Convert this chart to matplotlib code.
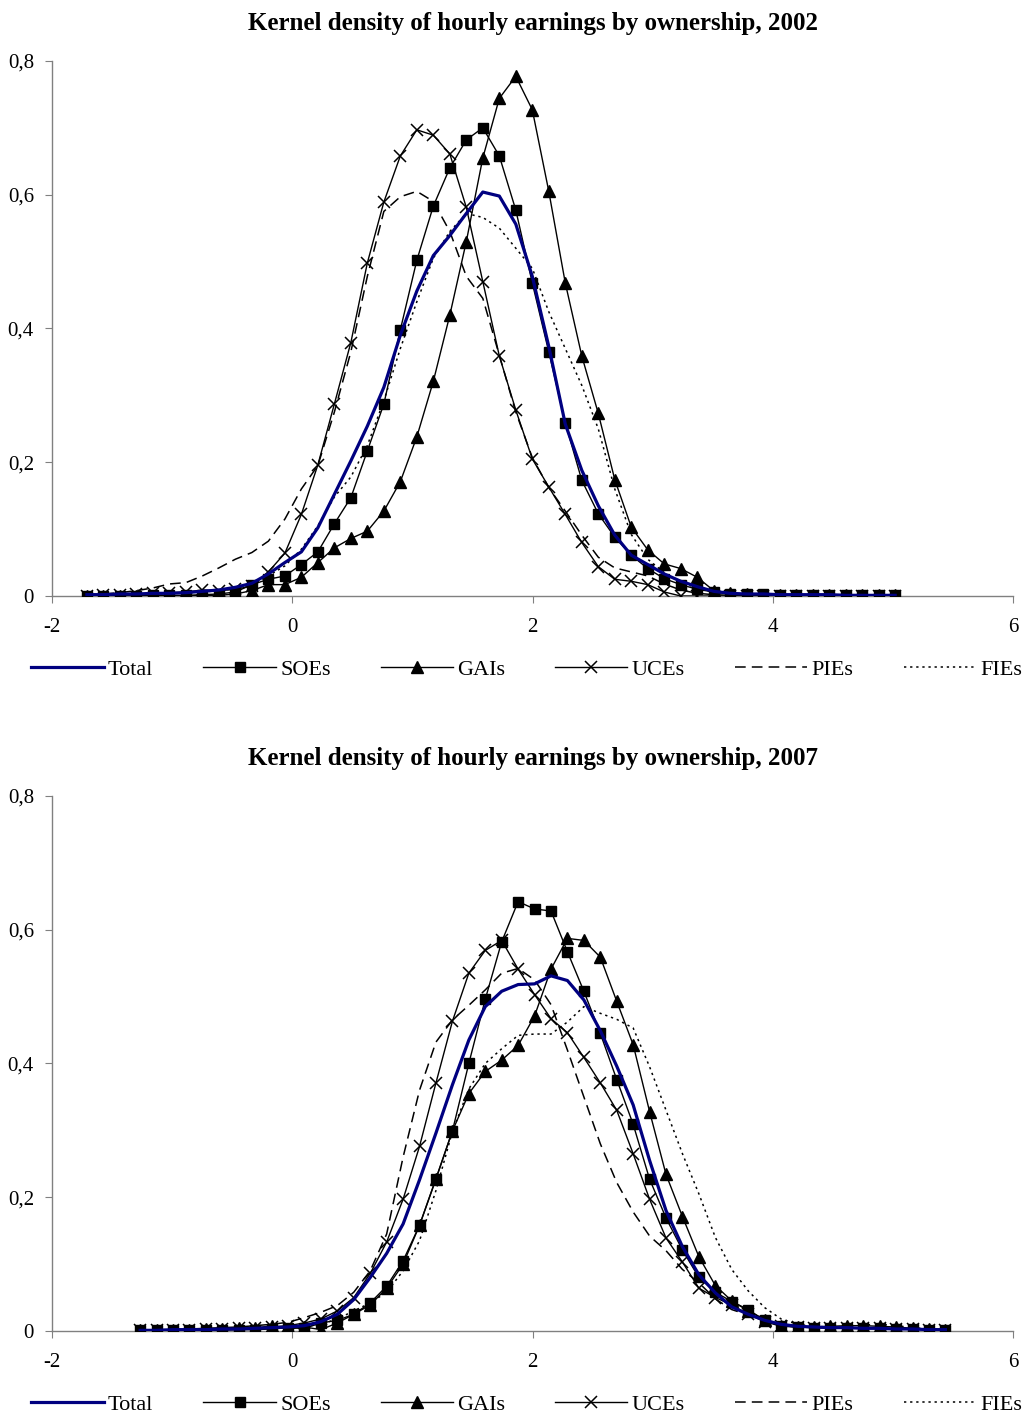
import numpy as np
import matplotlib
matplotlib.use('Agg')
import matplotlib.pyplot as plt
from matplotlib.ticker import FuncFormatter

plt.rcParams['font.family'] = ['Liberation Serif', 'DejaVu Serif']

# Evaluation grids (50 points each)
x_2002_start, x_2002_end = -1.709, 5.019
x_2007_start, x_2007_end = -1.266, 5.437

series_names = ['Total', 'SOEs', 'GAIs', 'UCEs', 'PIEs', 'FIEs']

# ---- 2002 ----
total_2002 = [0.002, 0.002, 0.003, 0.003, 0.004, 0.004, 0.005, 0.007, 0.009, 0.013,
              0.019, 0.033, 0.050, 0.066, 0.102, 0.152, 0.202, 0.254, 0.312, 0.390,
              0.456, 0.509, 0.539, 0.572, 0.604, 0.598, 0.556, 0.478, 0.373, 0.257,
              0.188, 0.135, 0.091, 0.061, 0.047, 0.033, 0.022, 0.014, 0.007, 0.004,
              0.003, 0.003, 0.002, 0.002, 0.002, 0.002, 0.001, 0.001, 0.001, 0.001]
soe_2002 = [0.000, 0.000, 0.000, 0.000, 0.001, 0.001, 0.001, 0.002, 0.003, 0.006,
            0.017, 0.025, 0.030, 0.047, 0.066, 0.108, 0.147, 0.217, 0.287, 0.398,
            0.502, 0.583, 0.640, 0.682, 0.700, 0.658, 0.577, 0.468, 0.365, 0.259,
            0.173, 0.123, 0.088, 0.061, 0.041, 0.026, 0.017, 0.010, 0.006, 0.003,
            0.003, 0.003, 0.002, 0.002, 0.002, 0.002, 0.002, 0.002, 0.001, 0.001]
gai_2002 = [0.000, 0.000, 0.000, 0.000, 0.000, 0.000, 0.000, 0.001, 0.001, 0.003,
            0.008, 0.017, 0.017, 0.028, 0.050, 0.072, 0.086, 0.097, 0.127, 0.171,
            0.238, 0.321, 0.420, 0.530, 0.655, 0.744, 0.777, 0.727, 0.605, 0.468,
            0.359, 0.273, 0.174, 0.103, 0.069, 0.048, 0.041, 0.028, 0.008, 0.004,
            0.003, 0.002, 0.002, 0.002, 0.001, 0.001, 0.001, 0.001, 0.001, 0.001]
uce_2002 = [0.000, 0.001, 0.002, 0.003, 0.004, 0.005, 0.006, 0.009, 0.008, 0.010,
            0.015, 0.036, 0.064, 0.122, 0.196, 0.287, 0.379, 0.498, 0.589, 0.658,
            0.697, 0.689, 0.661, 0.581, 0.470, 0.359, 0.278, 0.205, 0.163, 0.122,
            0.080, 0.044, 0.025, 0.022, 0.017, 0.006, 0.000, 0.000, 0.000, 0.000,
            0.000, 0.000, 0.000, 0.000, 0.000, 0.000, 0.000, 0.000, 0.000, 0.000]
pie_2002 = [0.002, 0.003, 0.005, 0.008, 0.012, 0.018, 0.020, 0.030, 0.042, 0.055,
            0.065, 0.082, 0.115, 0.160, 0.195, 0.275, 0.365, 0.478, 0.575, 0.597,
            0.605, 0.590, 0.545, 0.478, 0.445, 0.360, 0.275, 0.207, 0.162, 0.127,
            0.091, 0.058, 0.042, 0.036, 0.030, 0.018, 0.009, 0.004, 0.002, 0.001,
            0.001, 0.001, 0.000, 0.000, 0.000, 0.000, 0.000, 0.000, 0.000, 0.000]
fie_2002 = [0.002, 0.002, 0.002, 0.003, 0.003, 0.004, 0.005, 0.006, 0.008, 0.011,
            0.017, 0.030, 0.045, 0.070, 0.105, 0.148, 0.178, 0.225, 0.292, 0.370,
            0.440, 0.505, 0.545, 0.572, 0.566, 0.550, 0.520, 0.490, 0.425, 0.370,
            0.315, 0.250, 0.160, 0.092, 0.055, 0.035, 0.020, 0.012, 0.006, 0.003,
            0.002, 0.002, 0.001, 0.001, 0.001, 0.001, 0.001, 0.001, 0.001, 0.001]

# ---- 2007 ----
total_2007 = [0.001, 0.001, 0.002, 0.002, 0.002, 0.003, 0.003, 0.004, 0.005, 0.006,
              0.008, 0.014, 0.025, 0.047, 0.080, 0.116, 0.160, 0.226, 0.296, 0.368,
              0.435, 0.485, 0.508, 0.518, 0.519, 0.531, 0.524, 0.495, 0.449, 0.396,
              0.338, 0.255, 0.180, 0.126, 0.084, 0.057, 0.036, 0.025, 0.016, 0.010,
              0.007, 0.006, 0.005, 0.005, 0.004, 0.004, 0.003, 0.003, 0.002, 0.002]
soe_2007 = [0.001, 0.001, 0.001, 0.001, 0.001, 0.001, 0.002, 0.002, 0.003, 0.005,
            0.004, 0.012, 0.016, 0.025, 0.042, 0.067, 0.105, 0.158, 0.228, 0.299,
            0.400, 0.496, 0.582, 0.642, 0.631, 0.628, 0.567, 0.508, 0.445, 0.376,
            0.309, 0.227, 0.169, 0.121, 0.080, 0.058, 0.044, 0.032, 0.016, 0.008,
            0.006, 0.005, 0.005, 0.004, 0.004, 0.004, 0.003, 0.003, 0.002, 0.002]
gai_2007 = [0.001, 0.001, 0.002, 0.002, 0.003, 0.003, 0.004, 0.004, 0.008, 0.003,
            0.006, 0.002, 0.012, 0.025, 0.039, 0.064, 0.100, 0.158, 0.227, 0.299,
            0.355, 0.388, 0.405, 0.427, 0.471, 0.541, 0.587, 0.584, 0.559, 0.493,
            0.428, 0.328, 0.234, 0.171, 0.111, 0.068, 0.045, 0.030, 0.017, 0.008,
            0.006, 0.006, 0.007, 0.008, 0.008, 0.007, 0.006, 0.004, 0.003, 0.002]
uce_2007 = [0.001, 0.001, 0.002, 0.002, 0.003, 0.003, 0.004, 0.005, 0.006, 0.008,
            0.012, 0.018, 0.030, 0.050, 0.086, 0.133, 0.197, 0.276, 0.371, 0.463,
            0.535, 0.569, 0.584, 0.541, 0.503, 0.467, 0.446, 0.409, 0.371, 0.330,
            0.265, 0.197, 0.139, 0.103, 0.064, 0.050, 0.039, 0.025, 0.014, 0.007,
            0.006, 0.005, 0.005, 0.005, 0.004, 0.004, 0.003, 0.003, 0.002, 0.002]
pie_2007 = [0.001, 0.002, 0.002, 0.003, 0.004, 0.005, 0.006, 0.008, 0.010, 0.013,
            0.020, 0.028, 0.038, 0.058, 0.090, 0.145, 0.260, 0.360, 0.432, 0.465,
            0.487, 0.510, 0.535, 0.542, 0.525, 0.488, 0.420, 0.350, 0.280, 0.222,
            0.178, 0.142, 0.120, 0.092, 0.072, 0.048, 0.032, 0.024, 0.016, 0.011,
            0.008, 0.006, 0.006, 0.007, 0.009, 0.010, 0.008, 0.005, 0.003, 0.002]
fie_2007 = [0.000, 0.000, 0.001, 0.001, 0.001, 0.002, 0.003, 0.004, 0.005, 0.006,
            0.007, 0.010, 0.018, 0.030, 0.042, 0.058, 0.090, 0.135, 0.210, 0.298,
            0.362, 0.400, 0.422, 0.442, 0.444, 0.444, 0.462, 0.485, 0.475, 0.466,
            0.453, 0.395, 0.330, 0.265, 0.205, 0.140, 0.092, 0.060, 0.035, 0.018,
            0.010, 0.007, 0.006, 0.005, 0.004, 0.004, 0.003, 0.003, 0.002, 0.002]

x_ticks = [-2, 0, 2, 4, 6]
y_ticks = [0, 0.2, 0.4, 0.6, 0.8]


def comma_fmt(v, pos):
    if abs(v) < 1e-9:
        return '0'
    return ('%.1f' % v).replace('.', ',')


def draw_panel(ax, x, total, soe, gai, uce, pie, fie, title):
    ax.plot(x, pie, color='black', lw=1.1, linestyle=(0, (7, 4)), label='PIEs', zorder=2)
    ax.plot(x, fie, color='black', lw=1.1, linestyle=(0, (1.5, 2.5)), label='FIEs', zorder=2)
    ax.plot(x, soe, color='black', lw=1.0, marker='s', ms=7.3, label='SOEs', zorder=3)
    ax.plot(x, gai, color='black', lw=1.0, marker='^', ms=8.3, label='GAIs', zorder=3)
    ax.plot(x, uce, color='black', lw=1.0, marker='x', ms=8.8, mew=1.1, label='UCEs', zorder=3)
    ax.plot(x, total, color='#000080', lw=2.3, label='Total', zorder=4)

    ax.set_xlim(-2, 6)
    ax.set_ylim(0, 0.8)
    ax.set_xticks(x_ticks)
    ax.set_yticks(y_ticks)
    ax.yaxis.set_major_formatter(FuncFormatter(comma_fmt))
    ax.xaxis.set_major_formatter(FuncFormatter(lambda v, p: '%d' % v))
    for s in ['top', 'right']:
        ax.spines[s].set_visible(False)
    for s in ['left', 'bottom']:
        ax.spines[s].set_color('#808080')
        ax.spines[s].set_linewidth(1.0)
    ax.tick_params(axis='both', direction='out', length=5, color='#808080',
                   labelsize=15, colors='black')
    ax.tick_params(axis='x', pad=11)
    ax.tick_params(axis='y', pad=8)
    ax.set_title(title, fontsize=18, fontweight='bold', pad=22)

    # legend in the same order as the original
    h, l = ax.get_legend_handles_labels()
    order = [l.index(n) for n in series_names]
    ax.legend([h[k] for k in order], series_names, loc='upper center',
              bbox_to_anchor=(0.494, -0.119), ncol=6, frameon=False,
              fontsize=16, handlelength=3.25, handletextpad=0.2,
              columnspacing=2.25, borderaxespad=0, borderpad=0)


fig = plt.figure(figsize=(10.29, 14.14), dpi=100)
ax1 = fig.add_axes([0.0505, 0.5785, 0.934, 0.3784])
ax2 = fig.add_axes([0.0505, 0.0587, 0.934, 0.3784])

x02 = np.linspace(x_2002_start, x_2002_end, len(total_2002))
x07 = np.linspace(x_2007_start, x_2007_end, len(total_2007))

draw_panel(ax1, x02, total_2002, soe_2002, gai_2002, uce_2002, pie_2002, fie_2002,
           'Kernel density of hourly earnings by ownership, 2002')
draw_panel(ax2, x07, total_2007, soe_2007, gai_2007, uce_2007, pie_2007, fie_2007,
           'Kernel density of hourly earnings by ownership, 2007')

fig.savefig('out.png', dpi=100)
